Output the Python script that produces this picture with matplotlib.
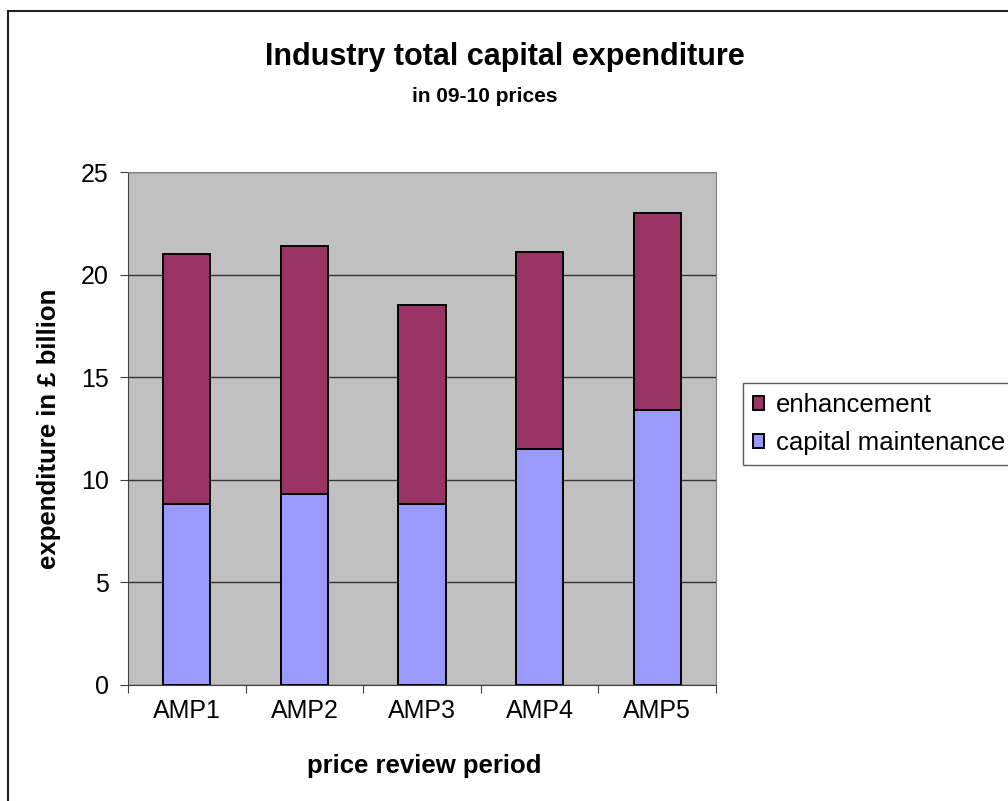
import numpy as np
import matplotlib
matplotlib.use("Agg")
import matplotlib.pyplot as plt
from matplotlib.patches import Rectangle

plt.rcParams['font.family'] = ['Liberation Sans', 'DejaVu Sans']

periods = ['AMP1', 'AMP2', 'AMP3', 'AMP4', 'AMP5']
maintenance = [8.8, 9.3, 8.8, 11.5, 13.4]
enhancement = [12.2, 12.1, 9.7, 9.6, 9.6]

W, H = 1008, 801
fig = plt.figure(figsize=(W / 100, H / 100), dpi=100)
# outer chart border (runs off the right and bottom edges)
fig.patches.append(Rectangle((8 / W, -0.02), 1.05, (H - 11) / H + 0.02,
                             transform=fig.transFigure, fill=False,
                             edgecolor='#222222', linewidth=1.5))

ax = fig.add_axes([128 / W, (H - 685) / H, (716 - 128) / W, (685 - 172) / H])
ax.set_facecolor('#C0C0C0')

x = np.arange(len(periods))
ax.bar(x, maintenance, width=0.4, color='#9999FF', edgecolor='black',
       linewidth=1.4, label='capital maintenance', zorder=3)
ax.bar(x, enhancement, width=0.4, bottom=maintenance, color='#993366',
       edgecolor='black', linewidth=1.4, label='enhancement', zorder=3)

ax.set_xlim(-0.5, len(periods) - 0.5)
ax.set_ylim(0, 25)
ax.set_yticks(range(0, 26, 5))
ax.yaxis.grid(True, color='#333333', linewidth=1.0, zorder=1)
ax.set_axisbelow(True)

# ticks sit on category boundaries, labels in the middle
ax.set_xticks(np.arange(-0.5, len(periods), 1.0))
ax.set_xticklabels([])
ax.set_xticks(x, minor=True)
ax.set_xticklabels(periods, minor=True, fontsize=18)
ax.tick_params(axis='x', which='minor', length=0, pad=10)
ax.tick_params(axis='x', which='major', length=6, direction='out', color='#404040')
ax.tick_params(axis='y', length=6, direction='out', color='#404040', labelsize=18, pad=8)

for side in ['left', 'bottom']:
    ax.spines[side].set_color('#404040')
for side in ['top', 'right']:
    ax.spines[side].set_color('#808080')

fig.text(424 / W, 1 - 766 / H, 'price review period', ha='center', va='center',
         fontsize=18.5, fontweight='bold')
fig.text(49 / W, 1 - 429 / H, 'expenditure in £ billion', ha='center', va='center',
         rotation=90, fontsize=18.5, fontweight='bold')

fig.text(505 / W, 1 - 57 / H, 'Industry total capital expenditure',
         ha='center', va='center', fontsize=22, fontweight='bold')
fig.text(485 / W, 1 - 96 / H, 'in 09-10 prices',
         ha='center', va='center', fontsize=15, fontweight='bold')

handles, labels = ax.get_legend_handles_labels()
leg = fig.legend(handles[::-1], labels[::-1], loc='upper left',
                 bbox_to_anchor=(743 / W, 1 - 383 / H), fontsize=18.5,
                 frameon=True, fancybox=False, edgecolor='#333333',
                 handlelength=0.45, handleheight=0.45, handletextpad=0.45,
                 borderpad=0.38, labelspacing=0.55, borderaxespad=0)
leg.get_frame().set_linewidth(1.0)

fig.savefig('out.png', dpi=100)
